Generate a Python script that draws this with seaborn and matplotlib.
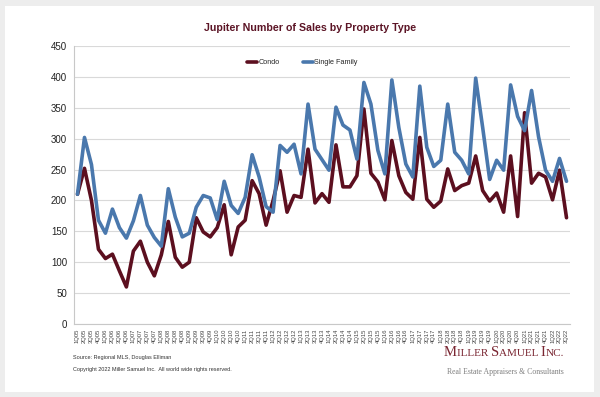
"""Jupiter number of sales by property type, quarterly 2005-2022."""

import matplotlib
matplotlib.use("Agg")
import matplotlib.pyplot as plt
import pandas as pd
import seaborn as sns
from matplotlib.offsetbox import AnchoredOffsetbox, HPacker, TextArea
from matplotlib.patches import Rectangle

QUARTERS = [f"{q}Q{y:02d}" for y in range(5, 23) for q in range(1, 5)][:71]

SINGLE_FAMILY = [
    210, 302, 258, 168, 147, 186, 156, 139, 167, 208, 160, 140,
    126, 219, 173, 141, 147, 189, 208, 204, 169, 231, 192, 179,
    205, 274, 238, 190, 181, 289, 278, 291, 243, 356, 283, 266,
    249, 351, 322, 314, 267, 391, 356, 281, 243, 395, 318, 259,
    238, 385, 286, 255, 265, 356, 278, 265, 243, 398, 318, 234,
    265, 249, 387, 336, 313, 378, 303, 249, 231, 268, 231,
]
CONDO = [
    210, 252, 200, 121, 106, 113, 86, 60, 118, 134, 100, 78,
    112, 166, 108, 92, 100, 172, 149, 141, 156, 193, 112, 157,
    168, 232, 211, 160, 200, 248, 181, 208, 205, 283, 196, 211,
    197, 290, 222, 222, 240, 348, 244, 230, 201, 297, 240, 213,
    202, 302, 202, 189, 199, 251, 216, 224, 228, 272, 216, 199,
    212, 181, 272, 174, 342, 228, 244, 238, 201, 249, 172,
]

SERIES = ["Condo", "Single Family"]
COLORS = {"Condo": "#5c0f1f", "Single Family": "#4a78ad"}
TITLE_COLOR = "#5c1526"

df = pd.DataFrame({
    "idx": list(range(len(QUARTERS))) * 2,
    "sales": CONDO + SINGLE_FAMILY,
    "type": ["Condo"] * len(CONDO) + ["Single Family"] * len(SINGLE_FAMILY),
})

sns.set_theme(style="white")
plt.rcParams["font.family"] = ["Liberation Sans", "DejaVu Sans"]

W, H = 600, 397
fig = plt.figure(figsize=(6.0, 3.97), dpi=100, facecolor="#ededed")
fig.patches.append(Rectangle((5 / W, 5 / H), 589 / W, 386 / H, transform=fig.transFigure,
                             facecolor="white", edgecolor="none", zorder=-5))
ax = fig.add_axes([74 / W, 1 - 324 / H, 496 / W, 278 / H])
ax.set_facecolor("none")

sns.lineplot(data=df, x="idx", y="sales", hue="type", hue_order=SERIES,
             palette=COLORS, linewidth=2.6, ax=ax, legend=False)

ax.set_ylim(0, 450)
ax.set_yticks(range(0, 451, 50))
ax.set_xlim(-0.5, len(QUARTERS) - 0.5)
ax.set_xticks(range(len(QUARTERS)))
ax.set_xticklabels(QUARTERS, rotation=90, fontsize=4.2, color="#444444")
ax.tick_params(axis="y", labelsize=7, colors="#222222", length=0, pad=5)
ax.tick_params(axis="x", length=2, width=0.5, color="#bbbbbb", pad=1.5)
ax.yaxis.grid(True, color="#d9d9d9", linewidth=0.8)
ax.set_axisbelow(True)
ax.set_xlabel("")
ax.set_ylabel("")
for side in ["top", "right"]:
    ax.spines[side].set_visible(False)
for side in ["left", "bottom"]:
    ax.spines[side].set_color("#c8c8c8")
    ax.spines[side].set_linewidth(0.8)

handles = [plt.Line2D([], [], color=COLORS[s], linewidth=2.6) for s in SERIES]
ax.legend(handles, SERIES, loc="center", bbox_to_anchor=(0.46, 0.94), ncol=2,
          frameon=False, fontsize=5.2, handlelength=1.4, handletextpad=0.15,
          columnspacing=3.2)

fig.text(310 / W, 1 - 28 / H, "Jupiter Number of Sales by Property Type",
         ha="center", va="center", fontsize=7.7, fontweight="bold", color=TITLE_COLOR)

fig.text(73 / W, 1 - 357 / H, "Source: Regional MLS, Douglas Elliman",
         ha="left", va="center", fontsize=4, color="#333333")
fig.text(73 / W, 1 - 370 / H,
         "Copyright 2022 Miller Samuel Inc.  All world wide rights reserved.",
         ha="left", va="center", fontsize=4, color="#333333")

# small-caps logo built from pieces
serif = ["Liberation Serif", "DejaVu Serif"]
big = dict(fontsize=10.5, family=serif, color="#7a2632")
small = dict(fontsize=8, family=serif, color="#7a2632")
pieces = [("M", big), ("ILLER ", small), ("S", big), ("AMUEL ", small),
          ("I", big), ("NC.", small)]
logo = HPacker(children=[TextArea(t, textprops=p) for t, p in pieces],
               align="baseline", pad=0, sep=0)
fig.add_artist(AnchoredOffsetbox(loc="center right", child=logo, frameon=False, pad=0,
                                 borderpad=0, bbox_to_anchor=(564 / W, 1 - 352 / H),
                                 bbox_transform=fig.transFigure))
fig.text(564 / W, 1 - 372 / H, "Real Estate Appraisers & Consultants",
         ha="right", va="center", fontsize=5.6, family=serif, color="#7f7f7f")

fig.savefig("out.png", dpi=100, facecolor=fig.get_facecolor())
